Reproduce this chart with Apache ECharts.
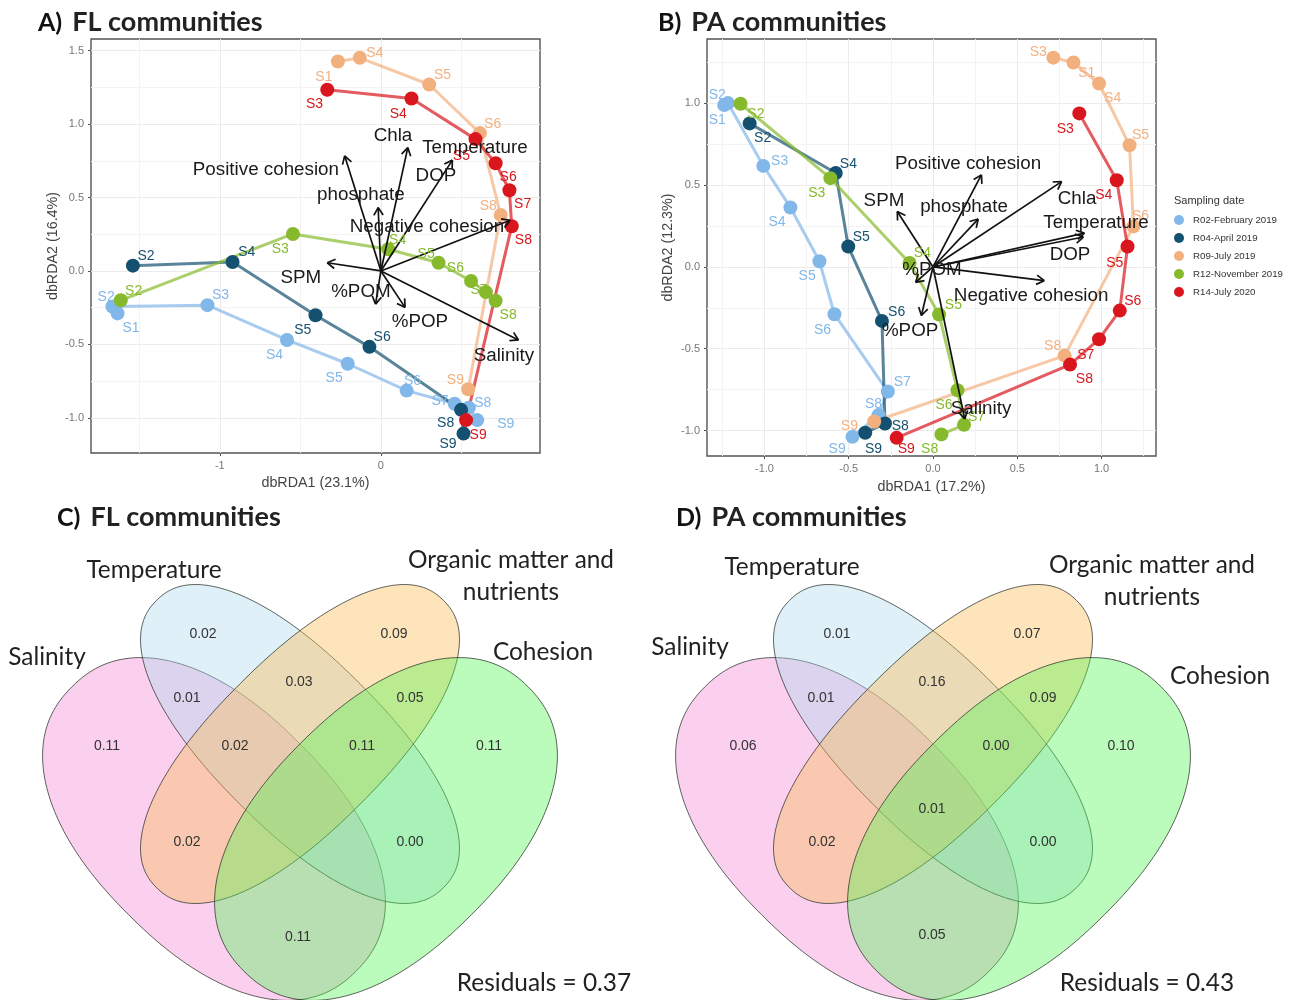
<!DOCTYPE html>
<html>
<head>
<meta charset="utf-8">
<script src="https://cdn.jsdelivr.net/npm/echarts@6/dist/echarts.min.js"></script>
<style>html,body{margin:0;padding:0;background:#fff}#main{width:1301px;height:1000px}</style>
</head>
<body>
<div id="main"></div>
<script>
// sampling dates
var dates = ['R02-February 2019', 'R04-April 2019', 'R09-July 2019', 'R12-November 2019', 'R14-July 2020'];
var dateColors = ['#82b7e9', '#14506f', '#f3b07f', '#86ba2c', '#d9161d'];

// A) FL communities: trajectories
var flR02 = [[-1.635,-0.289],[-1.667,-0.242],[-1.077,-0.233],[-0.583,-0.47],[-0.206,-0.632],[0.16,-0.815],[0.458,-0.905],[0.546,-0.932],[0.598,-1.016]];
var flR04 = [[-1.54,0.036],[-0.921,0.061],[-0.406,-0.302],[-0.071,-0.517],[0.498,-0.946],[0.513,-1.108]];
var flR09 = [[-0.267,1.427],[-0.131,1.452],[0.3,1.27],[0.615,0.939],[0.744,0.382],[0.542,-0.806]];
var flR12 = [[-1.615,-0.2],[-0.546,0.252],[0.046,0.148],[0.358,0.056],[0.56,-0.068],[0.652,-0.144],[0.7125,-0.203]];
var flR14 = [[-0.333,1.234],[0.19,1.175],[0.5875,0.898],[0.7125,0.734],[0.798,0.55],[0.8125,0.305],[0.529,-1.016]];
// sample names as they were repelled off the points
var flR02Names = [['S1',-1.552,-0.384],['S2',-1.706,-0.174],['S3',-0.996,-0.158],['S4',-0.66,-0.567],['S5',-0.29,-0.722],['S6',0.196,-0.745],['S7',0.367,-0.88],['S8',0.633,-0.892],['S9',0.775,-1.038]];
var flR04Names = [['S2',-1.458,0.106],['S4',-0.833,0.135],['S5',-0.485,-0.395],['S6',0.008,-0.447],['S8',0.402,-1.027],['S9',0.417,-1.174]];
var flR09Names = [['S1',-0.354,1.325],['S4',-0.0375,1.493],['S5',0.383,1.339],['S6',0.694,1.007],['S8',0.667,0.448],['S9',0.4625,-0.738]];
var flR12Names = [['S2',-1.535,-0.129],['S3',-0.625,0.158],['S4',0.104,0.216],['S5',0.281,0.124],['S6',0.4625,0.023],['S7',0.61,-0.124],['S8',0.79,-0.293]];
var flR14Names = [['S3',-0.4125,1.14],['S4',0.108,1.073],['S5',0.5,0.79],['S6',0.79,0.643],['S7',0.88,0.461],['S8',0.885,0.216],['S9',0.604,-1.11]];
var flArrows = [['Positive cohesion',-0.225,0.784],['Chla',0.167,0.84],['DOP',0.444,0.755],['phosphate',-0.017,0.432],['Negative cohesion',0.802,0.345],['SPM',-0.333,0.056],['%POM',-0.033,-0.226],['%POP',0.15,-0.248],['Salinity',0.854,-0.47]];
var flArrowNames = [['Positive cohesion',-0.714,0.695],['Chla',0.075,0.926],['Temperature',0.584,0.845],['DOP',0.342,0.654],['phosphate',-0.124,0.525],['Negative cohesion',0.286,0.307],['SPM',-0.497,-0.041],['%POM',-0.124,-0.136],['%POP',0.242,-0.341],['Salinity',0.764,-0.572]];

// B) PA communities: trajectories
var paR02 = [[-1.239,0.99],[-1.217,1.002],[-1.007,0.618],[-0.846,0.364],[-0.674,0.035],[-0.585,-0.289],[-0.268,-0.762],[-0.323,-0.906],[-0.478,-1.039]];
var paR04 = [[-1.088,0.878],[-0.577,0.575],[-0.503,0.125],[-0.303,-0.33],[-0.285,-0.957],[-0.402,-1.014]];
var paR09 = [[0.714,1.28],[0.833,1.25],[0.985,1.122],[1.166,0.744],[1.189,0.248],[0.781,-0.542],[-0.349,-0.945]];
var paR12 = [[-1.142,0.998],[-0.609,0.543],[-0.139,0.024],[0.036,-0.291],[0.145,-0.754],[0.184,-0.965],[0.05,-1.024]];
var paR14 = [[0.868,0.939],[1.09,0.53],[1.154,0.125],[1.108,-0.267],[0.985,-0.442],[0.813,-0.597],[-0.216,-1.045]];
var paR02Names = [['S1',-1.28,0.902],['S2',-1.28,1.059],['S3',-0.91,0.654],['S4',-0.926,0.278],['S5',-0.747,-0.049],['S6',-0.656,-0.379],['S7',-0.182,-0.7],['S8',-0.353,-0.833],['S9',-0.569,-1.106]];
var paR04Names = [['S2',-1.011,0.793],['S4',-0.502,0.634],['S5',-0.426,0.189],['S6',-0.216,-0.271],['S8',-0.194,-0.969],['S9',-0.353,-1.106]];
var paR09Names = [['S3',0.624,1.321],['S1',0.912,1.189],['S4',1.066,1.037],['S5',1.231,0.811],['S6',1.231,0.319],['S8',0.71,-0.479],['S9',-0.496,-0.969]];
var paR12Names = [['S2',-1.051,0.943],['S3',-0.69,0.457],['S4',-0.063,0.09],['S5',0.121,-0.23],['S6',0.065,-0.837],['S7',0.258,-0.912],['S8',-0.02,-1.106]];
var paR14Names = [['S3',0.785,0.848],['S4',1.013,0.445],['S5',1.078,0.029],['S6',1.185,-0.202],['S7',0.906,-0.536],['S8',0.898,-0.678],['S9',-0.159,-1.106]];
var paArrows = [['Positive cohesion',0.287,0.563],['Chla',0.763,0.522],['SPM',-0.212,0.339],['phosphate',0.268,0.293],['Temperature',0.898,0.207],['DOP',0.892,0.183],['Negative cohesion',0.66,-0.084],['%POM',-0.103,-0.094],['%POP',-0.069,-0.297],['Salinity',0.188,-0.929]];
var paArrowNames = [['Positive cohesion',0.208,0.636],['SPM',-0.291,0.41],['phosphate',0.184,0.373],['Chla',0.855,0.422],['Temperature',0.967,0.275],['DOP',0.813,0.08],['%POM',-0.006,-0.012],['Negative cohesion',0.582,-0.171],['%POP',-0.136,-0.385],['Salinity',0.285,-0.862]];

// axis ticks
var flXLabels = [-1, 0];
var flXGrid = [-1.5, -0.5, 0.5];
var flYLabels = [-1, -0.5, 0, 0.5, 1, 1.5];
var flYGrid = [-0.75, -0.25, 0.25, 0.75, 1.25];
var paXLabels = [-1, -0.5, 0, 0.5, 1];
var paXGrid = [-1.25, -0.75, -0.25, 0.25, 0.75, 1.25];
var paYLabels = [-1, -0.5, 0, 0.5, 1];
var paYGrid = [-0.75, -0.25, 0.25, 0.75, 1.25];

// venn sets, tilted rounded ellipses in the venn panel's own units
var vennNames = ['Salinity', 'Temperature', 'Organic matter and nutrients', 'Cohesion'];
var vennColors = ['rgba(245,137,212,0.4)', 'rgba(175,217,237,0.4)', 'rgba(250,187,82,0.4)', 'rgba(85,245,85,0.4)'];
var vennCx = [214, 300, 300, 386];
var vennCy = [329, 244, 244, 329];
var vennMajor = [201, 203, 203, 201];
var vennMinor = [121, 85, 85, 121];
var vennTilt = [45, 45, -45, -45];
var vennRound = 2.25;

var vennFL = [['0.02',203,133],['0.09',394,133],['0.01',187,197],['0.03',299,181],['0.05',410,197],['0.11',107,245],['0.02',235,245],['0.11',362,245],['0.11',489,245],['0.02',187,341],['0.00',410,341],['0.11',298,436]];
var vennPA = [['0.01',204,133],['0.07',394,133],['0.01',188,197],['0.16',299,181],['0.09',410,197],['0.06',110,245],['0.00',363,245],['0.10',488,245],['0.01',299,308],['0.02',189,341],['0.00',410,341],['0.05',299,434]];
var vennFLNames = [['Salinity',47,156],['Temperature',154,69],['Organic matter and',511,59],['nutrients',511,91],['Cohesion',543,151],['Residuals = 0.37',544,482]];
var vennPANames = [['Salinity',57,146],['Temperature',159,66],['Organic matter and',519,64],['nutrients',519,96],['Cohesion',587,175],['Residuals = 0.43',514,482]];

var sansFont = '"Liberation Sans", Arial, sans-serif';
var titleFont = 'Lato, "Noto Sans", sans-serif';

function textSeries(rows, xi, color, size, family) {
  return {
    type: 'custom',
    xAxisIndex: xi,
    yAxisIndex: xi,
    silent: true,
    z: 6,
    data: rows,
    renderItem: function (params, api) {
      var r = rows[params.dataIndex];
      var p = api.coord([r[1], r[2]]);
      return {
        type: 'text',
        x: p[0],
        y: p[1] + 1,
        style: { text: r[0], fill: color, fontSize: size, fontFamily: family, textAlign: 'center', textVerticalAlign: 'middle' }
      };
    }
  };
}

function arrowSeries(rows, xi) {
  return {
    type: 'custom',
    xAxisIndex: xi,
    yAxisIndex: xi,
    silent: true,
    z: 5,
    data: rows,
    renderItem: function (params, api) {
      var r = rows[params.dataIndex];
      var o = api.coord([0, 0]);
      var t = api.coord([r[1], r[2]]);
      var a = Math.atan2(t[1] - o[1], t[0] - o[0]);
      var style = { stroke: '#111', lineWidth: 1.7, fill: null };
      var head = [a + 2.6, a - 2.6].map(function (h) {
        return { type: 'line', shape: { x1: t[0], y1: t[1], x2: t[0] + 9 * Math.cos(h), y2: t[1] + 9 * Math.sin(h) }, style: style };
      });
      return {
        type: 'group',
        children: [{ type: 'line', shape: { x1: o[0], y1: o[1], x2: t[0], y2: t[1] }, style: style }].concat(head)
      };
    }
  };
}

function pathSeries(name, points, color, xi) {
  return {
    name: name,
    type: 'line',
    xAxisIndex: xi,
    yAxisIndex: xi,
    data: points,
    symbol: 'circle',
    symbolSize: 14,
    itemStyle: { color: color },
    lineStyle: { color: color, width: 3, opacity: 0.7 },
    z: 3,
    silent: true,
    animation: false
  };
}

function vennSeries(xi) {
  return {
    type: 'custom',
    xAxisIndex: xi,
    yAxisIndex: xi,
    silent: true,
    z: 2,
    data: vennNames,
    renderItem: function (params, api) {
      var i = params.dataIndex;
      var tilt = vennTilt[i] * Math.PI / 180;
      var pts = [];
      for (var k = 0; k < 240; k++) {
        var t = k * 2 * Math.PI / 240;
        var c = Math.cos(t), s = Math.sin(t);
        var u = vennMajor[i] * (c < 0 ? -1 : 1) * Math.pow(Math.abs(c), 2 / vennRound);
        var v = vennMinor[i] * (s < 0 ? -1 : 1) * Math.pow(Math.abs(s), 2 / vennRound);
        pts.push(api.coord([vennCx[i] + u * Math.cos(tilt) - v * Math.sin(tilt), vennCy[i] + u * Math.sin(tilt) + v * Math.cos(tilt)]));
      }
      return {
        type: 'polygon',
        shape: { points: pts },
        style: { fill: vennColors[i], stroke: 'rgba(40,50,40,0.75)', lineWidth: 1 }
      };
    }
  };
}

function mainAxis(grid, min, max, labels, name, gap, isY) {
  var fmt = function (v) { return isY || labels.length > 2 ? v.toFixed(1) : String(v); };
  return {
    type: 'value', gridIndex: grid, min: min, max: max,
    position: isY ? 'left' : 'bottom',
    name: name, nameLocation: 'middle', nameGap: gap,
    nameTextStyle: { fontFamily: sansFont, fontSize: 14.3, color: '#444' },
    axisLine: { show: false, onZero: false },
    axisTick: { show: true, length: 3, customValues: labels, lineStyle: { color: '#555' } },
    axisLabel: { customValues: labels, formatter: fmt, fontFamily: sansFont, fontSize: 11, color: '#777', margin: 7 },
    splitLine: { show: true, lineStyle: { color: '#ebebeb', width: 1 } }
  };
}

function gridAxis(grid, min, max, values, isY) {
  return {
    type: 'value', gridIndex: grid, min: min, max: max,
    position: isY ? 'left' : 'bottom',
    axisLine: { show: false, onZero: false },
    axisTick: { show: false, customValues: values },
    axisLabel: { show: false },
    splitLine: { show: true, lineStyle: { color: '#f3f3f3', width: 1 } }
  };
}

function hiddenAxis(grid, max, inverse) {
  return { type: 'value', gridIndex: grid, min: 0, max: max, inverse: inverse, show: false, splitLine: { show: false } };
}

function panelTitle(letter, label, left, top) {
  return {
    text: '{b|' + letter + ')} {n|' + label + '}',
    left: left,
    top: top,
    textStyle: {
      rich: {
        b: { fontFamily: titleFont, fontSize: 25, fontWeight: 'bold', color: '#111', padding: [0, 5, 0, 0] },
        n: { fontFamily: titleFont, fontSize: 27, color: '#222' }
      }
    }
  };
}

var series = [];
var flPaths = [flR02, flR04, flR09, flR12, flR14];
var flNames = [flR02Names, flR04Names, flR09Names, flR12Names, flR14Names];
var paPaths = [paR02, paR04, paR09, paR12, paR14];
var paNames = [paR02Names, paR04Names, paR09Names, paR12Names, paR14Names];
dates.forEach(function (d, i) {
  series.push(pathSeries(d, flPaths[i], dateColors[i], 0));
  series.push(pathSeries(d, paPaths[i], dateColors[i], 2));
  series.push(textSeries(flNames[i], 0, dateColors[i], 14, sansFont));
  series.push(textSeries(paNames[i], 2, dateColors[i], 14, sansFont));
});
series.push(arrowSeries(flArrows, 0));
series.push(arrowSeries(paArrows, 2));
series.push(textSeries(flArrowNames, 0, '#1a1a1a', 18.8, sansFont));
series.push(textSeries(paArrowNames, 2, '#1a1a1a', 18.8, sansFont));
series.push(vennSeries(4));
series.push(vennSeries(5));
series.push(textSeries(vennFL, 4, '#333', 14, sansFont));
series.push(textSeries(vennPA, 5, '#333', 14, sansFont));
series.push(textSeries(vennFLNames, 4, '#222', 24.4, titleFont));
series.push(textSeries(vennPANames, 5, '#222', 24.4, titleFont));

var chart = echarts.init(document.getElementById('main'));
var option = {
  animation: false,
  backgroundColor: '#fff',
  title: [
    panelTitle('A', 'FL communities', 33, 4),
    panelTitle('B', 'PA communities', 653, 4),
    panelTitle('C', 'FL communities', 52, 499),
    panelTitle('D', 'PA communities', 671, 499),
    { text: 'Sampling date', left: 1169, top: 190, textStyle: { fontFamily: sansFont, fontSize: 11, fontWeight: 'normal', color: '#333' } }
  ],
  legend: {
    data: dates,
    orient: 'vertical',
    left: 1169,
    top: 210,
    icon: 'circle',
    itemWidth: 18,
    itemHeight: 10,
    itemGap: 8,
    selectedMode: false,
    textStyle: { fontFamily: sansFont, fontSize: 9.7, color: '#333' }
  },
  grid: [
    { left: 91, top: 39, width: 449, height: 414, show: true, borderColor: '#555', borderWidth: 1.4, backgroundColor: 'transparent' },
    { left: 707, top: 39, width: 449, height: 417, show: true, borderColor: '#555', borderWidth: 1.4, backgroundColor: 'transparent' },
    { left: 0, top: 500, width: 640, height: 500 },
    { left: 633, top: 500, width: 668, height: 500 }
  ],
  xAxis: [
    mainAxis(0, -1.8, 0.988, flXLabels, 'dbRDA1 (23.1%)', 23, false),
    gridAxis(0, -1.8, 0.988, flXGrid, false),
    mainAxis(1, -1.341, 1.323, paXLabels, 'dbRDA1 (17.2%)', 24, false),
    gridAxis(1, -1.341, 1.323, paXGrid, false),
    hiddenAxis(2, 640, false),
    hiddenAxis(3, 668, false)
  ],
  yAxis: [
    mainAxis(0, -1.24, 1.58, flYLabels, 'dbRDA2 (16.4%)', 31, true),
    gridAxis(0, -1.24, 1.58, flYGrid, true),
    mainAxis(1, -1.156, 1.394, paYLabels, 'dbRDA2 (12.3%)', 32, true),
    gridAxis(1, -1.156, 1.394, paYGrid, true),
    hiddenAxis(2, 500, true),
    hiddenAxis(3, 500, true)
  ],
  series: series
};
chart.setOption(option);
window.onresize = function () { chart.resize(); };
</script>
</body>
</html>
